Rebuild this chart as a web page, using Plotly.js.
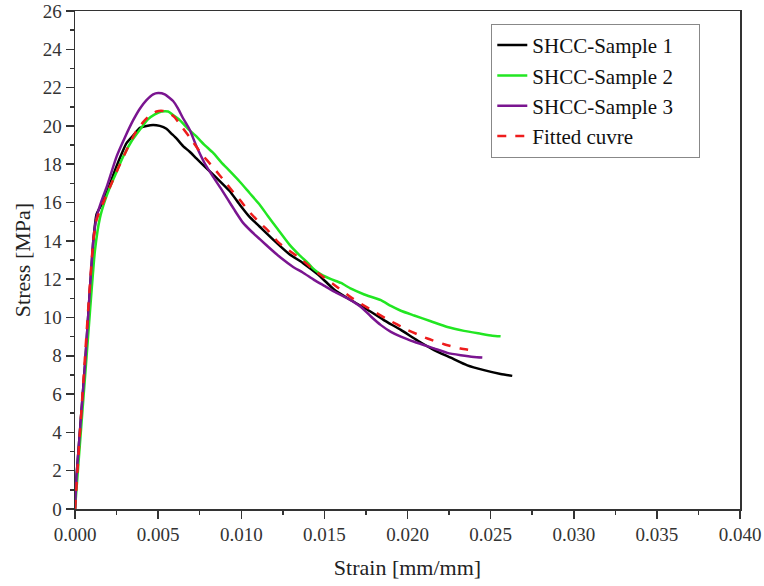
<!DOCTYPE html>
<html>
<head>
<meta charset="utf-8">
<script src="https://cdn.plot.ly/plotly-3.0.1.min.js"></script>
<style>html,body{margin:0;padding:0;background:#fff;}#chart{width:764px;height:586px;}</style>
</head>
<body>
<div id="chart"></div>
<script>
// Sample 1 (black)
const s1Strain = [0, 0.0001, 0.0006, 0.0011, 0.0013, 0.0016, 0.0019, 0.0025, 0.0031, 0.0035, 0.0039, 0.0043, 0.0047, 0.0051, 0.0055, 0.0058, 0.0061, 0.0065, 0.0069, 0.0073, 0.0079, 0.0085, 0.0093, 0.0099, 0.0105, 0.0111, 0.0120, 0.0129, 0.0137, 0.0146, 0.0151, 0.0156, 0.0166, 0.0176, 0.0186, 0.0196, 0.0206, 0.0216, 0.0226, 0.0236, 0.0246, 0.0256, 0.0263];
const s1Stress = [0, 1.8, 7.5, 14.0, 15.4, 15.9, 16.5, 17.9, 19.1, 19.5, 19.9, 20.0, 20.05, 20.0, 19.85, 19.6, 19.35, 18.95, 18.65, 18.3, 17.8, 17.3, 16.6, 15.9, 15.25, 14.75, 14.0, 13.3, 12.85, 12.25, 11.85, 11.45, 10.9, 10.4, 9.85, 9.35, 8.8, 8.3, 7.9, 7.5, 7.25, 7.05, 6.95];

// Sample 2 (green)
const s2Strain = [0, 0.0002, 0.0007, 0.0012, 0.0015, 0.0018, 0.0021, 0.0025, 0.0029, 0.0034, 0.0039, 0.0044, 0.0048, 0.0052, 0.0056, 0.0060, 0.0063, 0.0068, 0.0073, 0.0078, 0.0083, 0.0088, 0.0093, 0.0099, 0.0105, 0.0111, 0.0116, 0.0122, 0.0129, 0.0135, 0.0140, 0.0144, 0.0148, 0.0154, 0.0160, 0.0166, 0.0174, 0.0184, 0.0190, 0.0196, 0.0204, 0.0214, 0.0224, 0.0234, 0.0244, 0.0251, 0.0256];
const s2Stress = [0, 2.3, 8.0, 13.5, 15.2, 16.1, 16.8, 17.6, 18.4, 19.2, 19.8, 20.35, 20.6, 20.75, 20.75, 20.5, 20.3, 19.85, 19.45, 19.0, 18.6, 18.1, 17.65, 17.1, 16.5, 15.9, 15.3, 14.6, 13.8, 13.25, 12.85, 12.5, 12.25, 12.0, 11.8, 11.5, 11.2, 10.9, 10.6, 10.35, 10.1, 9.8, 9.5, 9.3, 9.15, 9.05, 9.02];

// Sample 3 (purple)
const s3Strain = [0, 0.0001, 0.0006, 0.0011, 0.0013, 0.0016, 0.0019, 0.0025, 0.0030, 0.0035, 0.0039, 0.0043, 0.0047, 0.0050, 0.0054, 0.0059, 0.0062, 0.0065, 0.0069, 0.0073, 0.0078, 0.0083, 0.0088, 0.0092, 0.0096, 0.0101, 0.0106, 0.0111, 0.0118, 0.0124, 0.0131, 0.0137, 0.0144, 0.0150, 0.0156, 0.0164, 0.0172, 0.0178, 0.0184, 0.0190, 0.0196, 0.0204, 0.0216, 0.0224, 0.0232, 0.0240, 0.0245];
const s3Stress = [0, 1.8, 7.5, 14.0, 15.25, 16.1, 16.8, 18.4, 19.4, 20.3, 20.9, 21.35, 21.65, 21.72, 21.65, 21.3, 20.9, 20.4, 19.8, 18.95, 18.05, 17.35, 16.7, 16.15, 15.6, 14.95, 14.5, 14.1, 13.55, 13.1, 12.65, 12.35, 11.95, 11.65, 11.35, 11.0, 10.55, 10.05, 9.6, 9.25, 9.0, 8.73, 8.38, 8.15, 8.03, 7.94, 7.91];

// Fitted curve (red dashed)
const fitStrain = [0, 0.0011, 0.0013, 0.0017, 0.0021, 0.0026, 0.0031, 0.0036, 0.0041, 0.0045, 0.0049, 0.0053, 0.0057, 0.0060, 0.0063, 0.0069, 0.0076, 0.0083, 0.0091, 0.0096, 0.0100, 0.0104, 0.0111, 0.0116, 0.0122, 0.0127, 0.0136, 0.0142, 0.0148, 0.0156, 0.0166, 0.0178, 0.0188, 0.0200, 0.0212, 0.0222, 0.0232, 0.0240];
const fitStress = [0, 14.0, 15.1, 16.0, 16.8, 17.8, 18.73, 19.6, 20.2, 20.55, 20.75, 20.78, 20.65, 20.45, 20.1, 19.4, 18.55, 17.85, 17.0, 16.45, 16.05, 15.6, 14.95, 14.55, 13.95, 13.6, 13.05, 12.6, 12.2, 11.7, 11.05, 10.4, 9.9, 9.35, 8.9, 8.6, 8.38, 8.27];

const seriesNames = ['SHCC-Sample 1', 'SHCC-Sample 2', 'SHCC-Sample 3', 'Fitted cuvre'];
const xTitle = 'Strain [mm/mm]';
const yTitle = 'Stress [MPa]';

const serif = '"Liberation Serif", "Times New Roman", serif';
const pad = '\u00a0\u00a0\u00a0\u00a0';

const traces = [
  {x: s1Strain, y: s1Stress, name: seriesNames[0] + pad, mode: 'lines', line: {color: '#000000', width: 2.5, shape: 'spline', smoothing: 0.5}},
  {x: s2Strain, y: s2Stress, name: seriesNames[1] + pad, mode: 'lines', line: {color: '#22e622', width: 2.5, shape: 'spline', smoothing: 0.5}},
  {x: s3Strain, y: s3Stress, name: seriesNames[2] + pad, mode: 'lines', line: {color: '#7a1590', width: 2.5, shape: 'spline', smoothing: 0.5}},
  {x: fitStrain, y: fitStress, name: seriesNames[3] + pad, mode: 'lines', line: {color: '#ee1c1c', width: 2.5, dash: 'dash', shape: 'spline', smoothing: 0.5}}
];

const layout = {
  width: 764, height: 586,
  margin: {l: 75, r: 24, t: 11, b: 77},
  paper_bgcolor: '#ffffff',
  plot_bgcolor: '#ffffff',
  font: {family: serif, color: '#222', size: 19},
  showlegend: true,
  legend: {
    x: 0.626, y: 0.974, xanchor: 'left', yanchor: 'top',
    bgcolor: '#ffffff', bordercolor: '#888', borderwidth: 1,
    font: {family: serif, size: 21, color: '#111'},
    tracegroupgap: 0
  },
  xaxis: {
    range: [0, 0.04], dtick: 0.005, tick0: 0, tickformat: '.3f',
    showgrid: false, zeroline: false,
    showline: true, mirror: true, linecolor: '#333', linewidth: 1.5,
    ticks: 'outside', ticklen: 8, tickwidth: 1.5, tickcolor: '#333',
    minor: {dtick: 0.0025, ticks: 'outside', ticklen: 4, tickwidth: 1.5, tickcolor: '#333', showgrid: false},
    tickfont: {family: serif, size: 19, color: '#333'},
    title: {text: xTitle, font: {family: serif, size: 22, color: '#222'}, standoff: 15}
  },
  yaxis: {
    range: [0, 26], dtick: 2, tick0: 0,
    showgrid: false, zeroline: false,
    showline: true, mirror: true, linecolor: '#333', linewidth: 1.5,
    ticks: 'outside', ticklen: 8, tickwidth: 1.5, tickcolor: '#333',
    minor: {dtick: 1, ticks: 'outside', ticklen: 4, tickwidth: 1.5, tickcolor: '#333', showgrid: false},
    tickfont: {family: serif, size: 19, color: '#333'},
    title: {text: yTitle, font: {family: serif, size: 22, color: '#222'}, standoff: 6}
  }
};

Plotly.newPlot('chart', traces, layout, {displayModeBar: false, staticPlot: true});
</script>
</body>
</html>
